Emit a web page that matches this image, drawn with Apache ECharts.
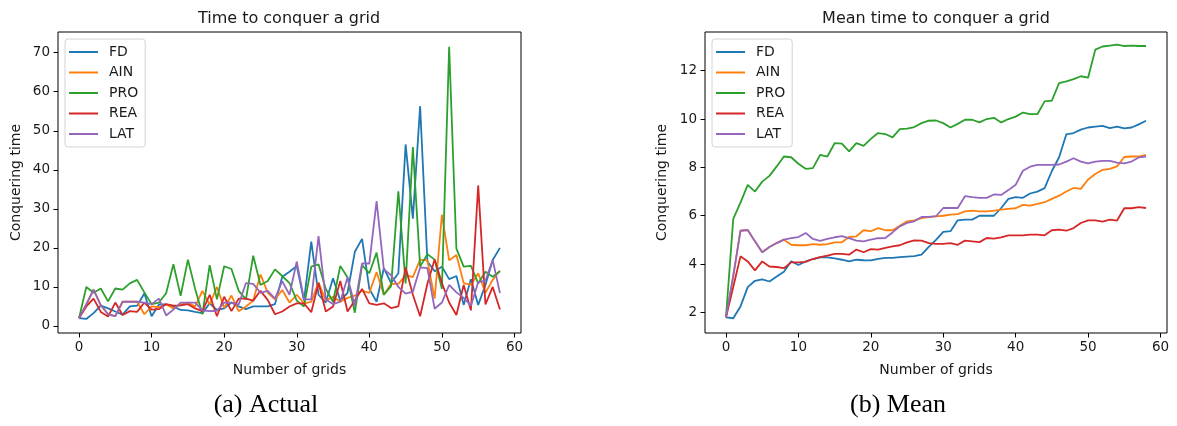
<!DOCTYPE html>
<html>
<head>
<meta charset="utf-8">
<script src="https://cdn.jsdelivr.net/npm/echarts@6/dist/echarts.min.js"></script>
<style>
  html, body { margin: 0; padding: 0; background: #ffffff; }
  #chart { width: 1177px; height: 426px; }
</style>
</head>
<body>
<div id="chart"></div>
<script>
// Strategy names and their line colours
const seriesNames = ['FD', 'AIN', 'PRO', 'REA', 'LAT'];
const seriesColors = ['#1f77b4', '#ff7f0e', '#2ca02c', '#d62728', '#9467bd'];

// (a) time needed to conquer each grid
const actualFD  = [2.0, 1.8, 3.3, 5.2, 4.5, 3.7, 2.9, 5.0, 5.2, 8.3, 2.5, 5.5, 5.5, 5.0, 4.1, 4.0, 3.6, 3.3, 5.8, 4.1, 4.5, 6.0, 5.0, 4.3, 5.0, 5.0, 5.0, 5.6, 12.6, 13.9, 15.4, 6.5, 21.6, 8.0, 6.0, 12.2, 6.5, 8.5, 19.0, 22.3, 9.5, 6.2, 14.8, 11.0, 13.5, 46.5, 27.5, 56.3, 16.5, 14.0, 15.2, 12.0, 12.8, 5.4, 12.0, 5.4, 10.5, 16.9, 20.0];
const actualAIN = [2.0, 5.5, 9.3, 5.3, 3.0, 2.5, 6.2, 6.2, 6.2, 3.0, 5.0, 4.8, 5.5, 4.5, 5.5, 6.0, 5.0, 9.0, 5.5, 10.0, 4.6, 7.8, 3.8, 5.0, 6.5, 13.2, 8.5, 6.8, 9.2, 6.0, 8.0, 5.8, 6.2, 11.2, 6.5, 7.5, 6.2, 7.2, 7.8, 9.0, 8.5, 13.8, 8.0, 10.8, 10.8, 13.0, 12.5, 17.0, 16.8, 7.0, 28.5, 16.8, 18.2, 11.0, 10.5, 13.5, 8.5, 11.8, 14.2];
const actualPRO = [2.0, 10.0, 8.5, 9.6, 6.3, 9.6, 9.3, 10.9, 11.8, 8.6, 5.6, 6.0, 8.4, 15.8, 7.7, 17.0, 9.5, 3.0, 15.6, 6.8, 15.3, 14.6, 9.0, 6.8, 18.0, 10.5, 11.5, 14.5, 12.8, 11.0, 6.5, 5.0, 15.2, 15.8, 9.5, 6.2, 15.4, 12.4, 3.4, 15.6, 13.5, 18.8, 8.0, 10.2, 34.5, 10.9, 45.8, 15.2, 18.4, 17.0, 9.5, 71.5, 19.8, 15.2, 15.4, 10.9, 13.9, 12.6, 14.0];
const actualREA = [2.0, 5.0, 7.0, 3.6, 2.4, 6.0, 2.8, 3.8, 3.6, 6.0, 4.2, 4.3, 5.6, 5.2, 5.3, 5.6, 4.5, 3.8, 8.0, 2.5, 7.5, 3.8, 7.0, 7.0, 6.5, 9.0, 6.7, 3.0, 3.7, 5.0, 5.8, 5.8, 3.5, 11.0, 3.7, 5.0, 11.5, 3.7, 6.5, 9.5, 5.8, 5.4, 5.8, 4.6, 5.0, 15.0, 8.0, 2.5, 10.8, 17.0, 11.0, 6.0, 2.8, 10.5, 4.0, 36.0, 5.5, 10.0, 4.2];
const actualLAT = [2.0, 5.5, 9.3, 5.3, 3.0, 2.5, 6.2, 6.2, 6.2, 6.0, 5.6, 7.0, 2.7, 4.2, 6.0, 6.0, 6.0, 4.0, 3.8, 3.9, 6.0, 6.0, 5.5, 11.0, 10.8, 8.5, 9.0, 7.0, 11.5, 8.0, 16.5, 6.8, 6.8, 23.0, 6.8, 5.6, 6.2, 12.5, 5.2, 16.0, 16.0, 32.0, 14.5, 13.0, 10.0, 8.3, 8.8, 15.0, 14.8, 4.4, 6.0, 10.5, 8.6, 7.2, 5.2, 11.2, 11.6, 16.9, 8.4];

// (b) running mean of the conquering time
const meanFD  = [1.8, 1.76, 2.25, 3.05, 3.31, 3.37, 3.28, 3.49, 3.68, 4.12, 3.96, 4.11, 4.21, 4.28, 4.28, 4.24, 4.18, 4.11, 4.18, 4.16, 4.15, 4.22, 4.26, 4.26, 4.29, 4.31, 4.33, 4.39, 4.71, 5.0, 5.33, 5.36, 5.81, 5.84, 5.84, 6.0, 6.0, 6.0, 6.32, 6.70, 6.77, 6.74, 6.92, 7.0, 7.14, 7.85, 8.42, 9.37, 9.42, 9.56, 9.65, 9.69, 9.72, 9.62, 9.69, 9.61, 9.65, 9.78, 9.93];
const meanAIN = [1.8, 3.5, 5.38, 5.41, 4.94, 4.49, 4.71, 4.87, 5.01, 4.80, 4.78, 4.78, 4.83, 4.80, 4.83, 4.90, 4.90, 5.12, 5.15, 5.40, 5.36, 5.49, 5.40, 5.40, 5.59, 5.77, 5.81, 5.90, 5.94, 5.97, 6.0, 6.05, 6.07, 6.18, 6.21, 6.18, 6.18, 6.21, 6.25, 6.28, 6.31, 6.45, 6.42, 6.49, 6.56, 6.70, 6.83, 7.0, 7.15, 7.11, 7.50, 7.73, 7.90, 7.94, 8.04, 8.43, 8.45, 8.45, 8.52];
const meanPRO = [1.8, 5.87, 6.54, 7.28, 7.0, 7.41, 7.65, 8.04, 8.45, 8.42, 8.15, 7.94, 7.97, 8.52, 8.45, 9.0, 8.98, 8.66, 9.0, 8.89, 9.18, 9.42, 9.38, 9.24, 9.58, 9.60, 9.67, 9.83, 9.93, 9.94, 9.83, 9.65, 9.80, 9.97, 9.97, 9.86, 10.0, 10.05, 9.86, 10.0, 10.1, 10.27, 10.2, 10.2, 10.73, 10.76, 11.49, 11.56, 11.65, 11.77, 11.71, 12.87, 13.0, 13.04, 13.08, 13.02, 13.04, 13.02, 13.02];
const meanREA = [1.8, 3.05, 4.32, 4.11, 3.74, 4.11, 3.90, 3.88, 3.83, 4.07, 4.07, 4.09, 4.21, 4.29, 4.35, 4.42, 4.42, 4.39, 4.60, 4.49, 4.62, 4.60, 4.67, 4.73, 4.78, 4.90, 4.98, 4.97, 4.87, 4.84, 4.84, 4.87, 4.80, 4.97, 4.94, 4.91, 5.08, 5.05, 5.11, 5.19, 5.19, 5.19, 5.22, 5.22, 5.19, 5.40, 5.43, 5.38, 5.49, 5.70, 5.81, 5.81, 5.76, 5.84, 5.80, 6.31, 6.31, 6.36, 6.32];
const meanLAT = [1.8, 3.5, 5.38, 5.41, 4.94, 4.49, 4.71, 4.87, 5.01, 5.07, 5.12, 5.29, 5.04, 4.96, 5.04, 5.11, 5.16, 5.07, 4.97, 4.94, 5.01, 5.07, 5.08, 5.31, 5.56, 5.70, 5.77, 5.95, 5.95, 5.98, 6.32, 6.32, 6.32, 6.81, 6.77, 6.74, 6.74, 6.88, 6.86, 7.06, 7.28, 7.86, 8.03, 8.10, 8.10, 8.10, 8.12, 8.24, 8.38, 8.24, 8.17, 8.24, 8.27, 8.27, 8.20, 8.17, 8.24, 8.41, 8.45];

// Tick labels
const xTicks = [0, 10, 20, 30, 40, 50, 60];
const actualYTicks = [0, 10, 20, 30, 40, 50, 60, 70];
const meanYTicks = [2, 4, 6, 8, 10, 12];

const actualData = [actualFD, actualAIN, actualPRO, actualREA, actualLAT];
const meanData = [meanFD, meanAIN, meanPRO, meanREA, meanLAT];

const SANS = '"DejaVu Sans", sans-serif';
const SERIF = '"Liberation Serif", "DejaVu Serif", serif';
const TEXT = '#1a1a1a';

function xAxisFor(gridIndex) {
  return {
    type: 'value', gridIndex: gridIndex, min: -2.9, max: 60.9,
    name: 'Number of grids', nameLocation: 'middle', nameGap: 30,
    nameTextStyle: { fontFamily: SANS, fontSize: 14, color: TEXT },
    axisLine: { show: false, onZero: false },
    axisTick: { show: true, inside: false, length: 4.5, customValues: xTicks, lineStyle: { color: '#000', width: 1 } },
    axisLabel: { customValues: xTicks, margin: 7, fontFamily: SANS, fontSize: 13.5, color: TEXT },
    splitLine: { show: false }
  };
}

function yAxisFor(gridIndex, min, max, ticks, nameGap) {
  return {
    type: 'value', gridIndex: gridIndex, min: min, max: max,
    name: 'Conquering time', nameLocation: 'middle', nameGap: nameGap, nameRotate: 90,
    nameTextStyle: { fontFamily: SANS, fontSize: 14, color: TEXT },
    axisLine: { show: false, onZero: false },
    axisTick: { show: true, inside: false, length: 4.5, customValues: ticks, lineStyle: { color: '#000', width: 1 } },
    axisLabel: { customValues: ticks, margin: 8, fontFamily: SANS, fontSize: 13.5, color: TEXT },
    splitLine: { show: false }
  };
}

function legendAt(left) {
  return {
    orient: 'vertical', left: left, top: 39,
    data: seriesNames,
    icon: 'rect', itemWidth: 29, itemHeight: 2, itemGap: 6.5,
    padding: [6, 7, 6, 4],
    borderColor: '#d4d4d4', borderWidth: 1, borderRadius: 3,
    backgroundColor: 'rgba(255,255,255,0.85)',
    textStyle: { fontFamily: SANS, fontSize: 14, lineHeight: 14, color: TEXT, padding: [0, 0, 0, 6] },
    selectedMode: false
  };
}

const series = [];
seriesNames.forEach(function (name, k) {
  [actualData[k], meanData[k]].forEach(function (values, g) {
    series.push({
      name: name, type: 'line', xAxisIndex: g, yAxisIndex: g,
      data: values.map(function (v, i) { return [i, v]; }),
      symbol: 'none', smooth: false,
      lineStyle: { width: 1.8, color: seriesColors[k] },
      itemStyle: { color: seriesColors[k] },
      emphasis: { disabled: true },
      z: 2 + k
    });
  });
});

const chart = echarts.init(document.getElementById('chart'), null, { renderer: 'canvas' });
chart.setOption({
  animation: false,
  backgroundColor: '#ffffff',
  grid: [
    { left: 58, top: 32, width: 463, height: 301, show: true, borderColor: '#000', borderWidth: 1, backgroundColor: 'transparent' },
    { left: 705, top: 32, width: 462, height: 301, show: true, borderColor: '#000', borderWidth: 1, backgroundColor: 'transparent' }
  ],
  xAxis: [xAxisFor(0), xAxisFor(1)],
  yAxis: [
    yAxisFor(0, -1.8, 75.3, actualYTicks, 35),
    yAxisFor(1, 1.15, 13.6, meanYTicks, 36)
  ],
  legend: [legendAt(65), legendAt(712)],
  graphic: [
    { type: 'text', x: 289, y: 19, style: { text: 'Time to conquer a grid', fill: TEXT, font: '16px ' + SANS, align: 'center', verticalAlign: 'middle' } },
    { type: 'text', x: 936, y: 19, style: { text: 'Mean time to conquer a grid', fill: TEXT, font: '16px ' + SANS, align: 'center', verticalAlign: 'middle' } },
    { type: 'text', x: 266, y: 405, style: { text: '(a) Actual', fill: '#000', font: '26px ' + SERIF, align: 'center', verticalAlign: 'middle' } },
    { type: 'text', x: 898, y: 405, style: { text: '(b) Mean', fill: '#000', font: '26px ' + SERIF, align: 'center', verticalAlign: 'middle' } }
  ],
  series: series
});
</script>
</body>
</html>
